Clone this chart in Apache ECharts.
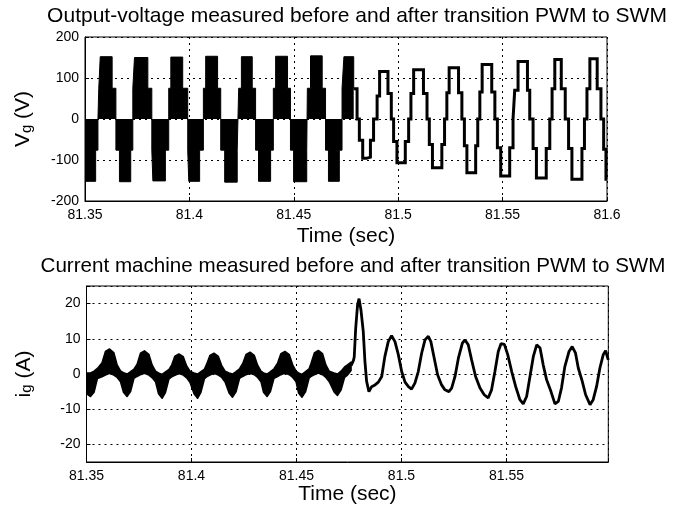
<!DOCTYPE html>
<html>
<head>
<meta charset="utf-8">
<title>PWM to SWM transition</title>
<script src="https://cdn.jsdelivr.net/npm/echarts@6/dist/echarts.min.js"></script>
<style>
  html, body { margin: 0; padding: 0; background: #fff; }
  #chart { width: 679px; height: 509px; }
</style>
</head>
<body>
<div id="chart"></div>
<script>
// ============================================================
// data (time in s)
// ============================================================

// top plot, PWM part: envelope of the switched voltage, held until next edge
var pwmEdge = [81.3500, 81.3551, 81.3562, 81.3566, 81.3573, 81.3630, 81.3648, 81.3665, 81.3719, 81.3729,
  81.3737, 81.3801, 81.3820, 81.3825, 81.3885, 81.3901, 81.3911, 81.3968, 81.3992, 81.3997,
  81.4049, 81.4067, 81.4078, 81.4135, 81.4150, 81.4169, 81.4229, 81.4236, 81.4249, 81.4301,
  81.4317, 81.4331, 81.4389, 81.4402, 81.4413, 81.4470, 81.4484, 81.4499, 81.4562, 81.4565,
  81.4580, 81.4636, 81.4652, 81.4666, 81.4718, 81.4731, 81.4740, 81.4787];
var pwmLevel = [-152, -76, 0, 75, 152, 75, -76, -153, -76, 75,
  150, 75, -76, -151, -76, 75, 151, 75, -76, -152,
  -76, 75, 153, 75, -76, -154, -76, 75, 152, 75,
  -76, -152, -76, 75, 153, 75, -76, -153, -76, 75,
  154, 75, -76, -152, -76, 75, 152, 74];

// top plot, SWM part: staircase levels
var swmEdge = [81.4787, 81.4803, 81.4814, 81.4830, 81.4848, 81.4867, 81.4882, 81.4899, 81.4911, 81.4951,
  81.4967, 81.4978, 81.4994, 81.5034, 81.5050, 81.5061, 81.5074, 81.5121, 81.5138, 81.5149,
  81.5164, 81.5209, 81.5222, 81.5233, 81.5244, 81.5289, 81.5305, 81.5317, 81.5329, 81.5371,
  81.5381, 81.5391, 81.5402, 81.5448, 81.5463, 81.5475, 81.5491, 81.5534, 81.5550, 81.5558,
  81.5574, 81.5619, 81.5630, 81.5646, 81.5662, 81.5709, 81.5726, 81.5737, 81.5750, 81.5781,
  81.5800, 81.5816, 81.5832, 81.5880, 81.5892, 81.5904, 81.5918, 81.5953, 81.5971, 81.5984,
  81.5995, 81.6000];
var swmLevel = [74, 0, -52, -96, -93, -52, 0, 56, 116, 62,
  0, -55, -107, -55, 0, 62, 120, 62, 0, -62,
  -119, -62, 0, 64, 125, 64, 0, -65, -131, -65,
  0, 66, 133, 66, 0, -70, -139, -70, 0, 70,
  140, 70, 0, -72, -144, -72, 0, 74, 145, 74,
  0, -72, -147, -72, 0, 74, 147, 74, 0, -74,
  -147, -147];

// bottom plot, PWM part: ripple band (upper / lower edge)
var bandTime = [81.3500, 81.3519, 81.3536, 81.3552, 81.3574, 81.3590, 81.3610, 81.3630, 81.3646, 81.3662, 81.3676,
  81.3693, 81.3710, 81.3726, 81.3741, 81.3757, 81.3776, 81.3797, 81.3813, 81.3829, 81.3843,
  81.3860, 81.3876, 81.3893, 81.3906, 81.3921, 81.3940, 81.3961, 81.3977, 81.3993, 81.4012,
  81.4029, 81.4045, 81.4062, 81.4072, 81.4088, 81.4107, 81.4128, 81.4144, 81.4160, 81.4179,
  81.4195, 81.4212, 81.4229, 81.4244, 81.4260, 81.4279, 81.4299, 81.4315, 81.4331, 81.4343,
  81.4360, 81.4376, 81.4393, 81.4410, 81.4426, 81.4445, 81.4466, 81.4482, 81.4498, 81.4510,
  81.4526, 81.4543, 81.4560, 81.4569, 81.4585, 81.4604, 81.4624, 81.4640, 81.4656, 81.4679,
  81.4695, 81.4712, 81.4729, 81.4743, 81.4760];
var bandUpper = [0.3, 0.3, 0.8, 1.6, 3.2, 6.4, 7.1, 6.1, 2.6, 0.9, 0.4,
  0.0, 0.7, 1.4, 2.8, 5.9, 6.6, 5.6, 2.5, 0.8, 0.3,
  -0.1, 0.6, 1.3, 2.6, 5.1, 5.7, 4.9, 2.3, 0.8, 0.3,
  0.0, 0.7, 1.4, 2.8, 5.3, 5.9, 5.0, 2.4, 0.8, 0.3,
  0.0, 0.7, 1.5, 3.0, 5.6, 6.2, 5.3, 2.5, 0.8, 0.3,
  0.0, 0.7, 1.5, 3.1, 5.8, 6.4, 5.5, 2.6, 0.8, 0.3,
  -0.1, 0.7, 1.5, 3.0, 6.0, 6.7, 5.8, 2.6, 0.8, 0.3,
  0.0, 0.8, 2.0, 2.6, 3.4];
var bandLower = [-5.6, -6.4, -5.2, -1.3, -0.8, -0.3, 0.2, -0.3, -1.0, -2.2, -5.2,
  -6.4, -5.0, -1.2, -0.7, -0.2, 0.2, -0.3, -1.1, -2.3, -5.6,
  -6.9, -5.3, -1.4, -0.8, -0.4, 0.1, -0.3, -1.1, -2.4, -5.6,
  -6.9, -5.2, -1.3, -0.8, -0.3, 0.2, -0.3, -1.0, -2.3, -5.4,
  -6.6, -5.1, -1.2, -0.7, -0.2, 0.2, -0.2, -1.0, -2.2, -5.2,
  -6.4, -5.0, -1.2, -0.7, -0.2, 0.3, -0.2, -1.0, -2.2, -5.4,
  -6.6, -5.1, -1.2, -0.7, -0.2, 0.3, -0.2, -1.0, -2.2, -5.1,
  -6.1, -4.6, -1.0, -0.3, 1.0];

// bottom plot, SWM part: machine current
var curTime = [81.4760, 81.4771, 81.4775, 81.4782, 81.4791, 81.4798, 81.4807, 81.4818, 81.4826, 81.4834,
  81.4845, 81.4858, 81.4874, 81.4890, 81.4906, 81.4921, 81.4937, 81.4953, 81.4969, 81.4985,
  81.5001, 81.5017, 81.5033, 81.5048, 81.5064, 81.5080, 81.5096, 81.5112, 81.5128, 81.5140,
  81.5156, 81.5172, 81.5191, 81.5207, 81.5226, 81.5239, 81.5255, 81.5271, 81.5290, 81.5302,
  81.5318, 81.5334, 81.5353, 81.5374, 81.5394, 81.5413, 81.5429, 81.5445, 81.5461, 81.5474,
  81.5490, 81.5506, 81.5525, 81.5544, 81.5564, 81.5580, 81.5596, 81.5612, 81.5628, 81.5644,
  81.5660, 81.5675, 81.5691, 81.5712, 81.5731, 81.5747, 81.5762, 81.5778, 81.5798, 81.5813,
  81.5829, 81.5842, 81.5861, 81.5877, 81.5898, 81.5913, 81.5929, 81.5945, 81.5961, 81.5972,
  81.5985];
var curValue = [2.4, 3.8, 4.8, 13.0, 19.7, 21.4, 18.2, 12.1, 3.6, -2.1,
  -5.0, -3.6, -3.1, -2.3, -0.7, 5.0, 9.2, 10.9, 9.2, 5.5,
  0.7, -2.3, -3.6, -4.3, -2.6, 0.7, 5.9, 9.7, 10.7, 9.2,
  4.5, -0.2, -3.1, -4.5, -5.0, -4.0, -0.7, 4.5, 8.8, 9.7,
  8.3, 4.0, -0.7, -4.0, -5.9, -6.8, -4.5, 0.7, 6.4, 8.6,
  8.4, 5.5, 0.7, -3.6, -7.3, -8.5, -6.4, -0.7, 5.0, 8.3,
  7.4, 2.6, -1.6, -5.0, -8.5, -7.8, -4.0, 2.1, 6.4, 7.8,
  5.9, 1.7, -2.1, -5.9, -8.7, -7.3, -3.6, 1.7, 5.5, 6.6,
  4.0];

var TOP_TITLE = 'Output-voltage measured before and after transition PWM to SWM';
var BOTTOM_TITLE = 'Current machine measured before and after transition PWM to SWM';

// ============================================================
// helpers
// ============================================================

var FONT = '"Liberation Sans", Arial, sans-serif';
var DOTTED = { color: '#000', width: 1, type: [2, 4] };

function pairs(xs, ys) {
  return xs.map(function(x, i) { return [x, ys[i]]; });
}

// only show labels on the 0.05 s grid
function timeLabel(v) {
  var k = v * 20;
  if (Math.abs(k - Math.round(k)) > 1e-6) return '';
  return String(Math.round(k * 5) / 100);
}

function multipleOf(step) {
  return function(v) {
    var k = v / step;
    return Math.abs(k - Math.round(k)) > 1e-6 ? '' : String(Math.round(v));
  };
}

function timeAxis(gridIndex, max, gap) {
  return {
    type: 'value', gridIndex: gridIndex, min: 81.35, max: max, interval: 0.05,
    name: 'Time (sec)', nameLocation: 'middle', nameGap: gap,
    nameTextStyle: { fontFamily: FONT, fontSize: 21, color: '#000' },
    axisLine: { show: true, onZero: false, lineStyle: { color: '#000' } },
    axisTick: { inside: true, length: 4, lineStyle: { color: '#000' } },
    axisLabel: { formatter: timeLabel, fontFamily: FONT, fontSize: 14, color: '#000', margin: 7 },
    splitLine: { show: true, lineStyle: DOTTED },
  };
}

function valueAxis(gridIndex, min, max, interval, name, gap, step) {
  var ax = {
    type: 'value', gridIndex: gridIndex, min: min, max: max,
    name: name, nameLocation: 'middle', nameGap: gap,
    nameTextStyle: {
      fontFamily: FONT, fontSize: 21, color: '#000',
      rich: {
        b: { fontFamily: FONT, fontSize: 21, color: '#000', lineHeight: 21, verticalAlign: 'top' },
        s: { fontFamily: FONT, fontSize: 15, color: '#000', lineHeight: 15, verticalAlign: 'bottom', padding: [11, 0, 0, 0] },
      },
    },
    axisLine: { show: true, onZero: false, lineStyle: { color: '#000' } },
    axisTick: { inside: true, length: 4, lineStyle: { color: '#000' } },
    axisLabel: { formatter: multipleOf(step), fontFamily: FONT, fontSize: 14, color: '#000', margin: 6 },
    splitLine: { show: true, lineStyle: DOTTED },
  };
  if (interval) ax.interval = interval;
  return ax;
}

// ripple band: upper edge forward, lower edge back, as one filled polygon
function renderBand(params, api) {
  var pts = [];
  var i;
  for (i = 0; i < bandTime.length; i++) pts.push(api.coord([bandTime[i], bandUpper[i]]));
  for (i = bandTime.length - 1; i >= 0; i--) pts.push(api.coord([bandTime[i], bandLower[i]]));
  return {
    type: 'polygon',
    shape: { points: pts },
    style: { fill: '#000', stroke: '#000', lineWidth: 1.5, lineJoin: 'round' },
  };
}

// ============================================================
// chart
// ============================================================

var chart = echarts.init(document.getElementById('chart'), null, { renderer: 'canvas' });

chart.setOption({
  animation: false,
  backgroundColor: '#fff',
  title: [
    { text: TOP_TITLE, left: 352, top: 1, textAlign: 'center',
      textStyle: { fontFamily: FONT, fontSize: 21, fontWeight: 'normal', color: '#000' } },
    { text: BOTTOM_TITLE, left: 348, top: 251, textAlign: 'center',
      textStyle: { fontFamily: FONT, fontSize: 20.6, fontWeight: 'normal', color: '#000' } },
  ],
  grid: [
    { left: 84, right: 72, top: 37, height: 164, show: true, borderColor: '#000', borderWidth: 1 },
    { left: 86.5, right: 70.7, top: 286, height: 176, show: true, borderColor: '#000', borderWidth: 1 },
  ],
  xAxis: [
    timeAxis(0, 81.6, 25),
    timeAxis(1, 81.5985, 21),
  ],
  yAxis: [
    valueAxis(0, -200, 200, 100, '{b|V}{s|g}{b| (V)}', 51, 100),
    valueAxis(1, -25, 25, null, '{b|i}{s|g}{b| (A)}', 52, 10),
  ],
  series: [
    {
      name: 'PWM voltage', type: 'line', xAxisIndex: 0, yAxisIndex: 0,
      step: 'end', symbol: 'none', silent: true,
      data: pairs(pwmEdge, pwmLevel),
      lineStyle: { color: '#000', width: 1 },
      areaStyle: { color: '#000', opacity: 1 },
    },
    {
      name: 'SWM voltage', type: 'line', xAxisIndex: 0, yAxisIndex: 0,
      step: 'end', symbol: 'none', silent: true,
      data: pairs(swmEdge, swmLevel),
      lineStyle: { color: '#000', width: 3, join: 'miter' },
    },
    {
      name: 'PWM current', type: 'custom', xAxisIndex: 1, yAxisIndex: 1,
      silent: true, clip: true,
      data: [[bandTime[0], bandLower[0]]],
      encode: { x: 0, y: 1 },
      renderItem: renderBand,
    },
    {
      name: 'SWM current', type: 'line', xAxisIndex: 1, yAxisIndex: 1,
      symbol: 'none', silent: true,
      data: pairs(curTime, curValue),
      lineStyle: { color: '#000', width: 2.8 },
    },
  ],
});
</script>
</body>
</html>
